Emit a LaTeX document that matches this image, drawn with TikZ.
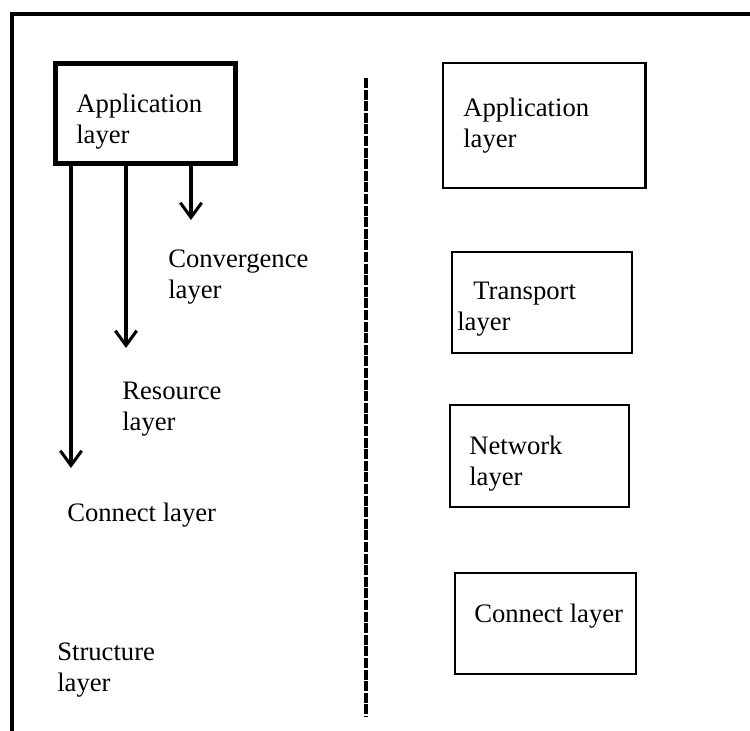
\documentclass[tikz,border=0pt]{standalone}
\usepackage{fontspec}
\setmainfont{Liberation Serif}
\usetikzlibrary{arrows.meta}

\tikzset{
  layerbox/.style={draw, line width=1.6pt, inner sep=0pt},
  lbl/.style={anchor=north west, inner sep=0pt, align=left, font=\fontsize{20}{23.3}\selectfont},
  downarr/.style={line width=2.3pt, -{Straight Barb[length=11pt,width=16pt]}}
}

\begin{document}
\begin{tikzpicture}[x=0.75pt,y=0.75pt,yscale=-1,xscale=1]
\useasboundingbox (0,0) rectangle (750,731);
% frame
\draw [line width=3pt] (12,731) -- (12,14) -- (750,14) ;
% left stack
\node [layerbox, line width=3.6pt, minimum width=134.7pt, minimum height=75pt] (appl) at (145.5,113.3) {};
\draw (76,94) node [lbl] (tappl) {Application\\layer};
\coordinate (convl) at (191,220);
\coordinate (resl) at (126,348);
\coordinate (connl) at (71,468);
\draw [downarr] (appl.south -| convl) -- (convl);
\draw [downarr] (appl.south -| resl) -- (resl);
\draw [downarr] (appl.south -| connl) -- (connl);
\draw (168,250) node [lbl] (tconvl) {Convergence\\layer};
\draw (122,382) node [lbl] (tresl) {Resource\\layer};
\draw (67,503) node [lbl] (tconnl) {Connect layer};
\draw (57,643) node [lbl] (tstrl) {Structure\\layer};
% divider
\draw [line width=2.3pt, dash pattern=on 7.5pt off 1.2pt] (366,78) -- (366,717);
% right stack
\node [layerbox, minimum width=151.7pt, minimum height=93.8pt] (appr) at (544.4,125.5) {};
\node [layerbox, minimum width=134.8pt, minimum height=76pt] (trans) at (542.2,302.7) {};
\node [layerbox, minimum width=134pt, minimum height=76.5pt] (netw) at (539.4,455.7) {};
\node [layerbox, minimum width=135.7pt, minimum height=76pt] (connr) at (545.3,623.4) {};
\draw (463,98) node [lbl] (tappr) {Application\\layer};
\draw (457,282) node [lbl] (ttrans) {\hspace*{12pt}Transport\\layer};
\draw (469,436) node [lbl] (tnetw) {Network\\layer};
\draw (474,604) node [lbl] (tconnr) {Connect layer};
\end{tikzpicture}
\end{document}
